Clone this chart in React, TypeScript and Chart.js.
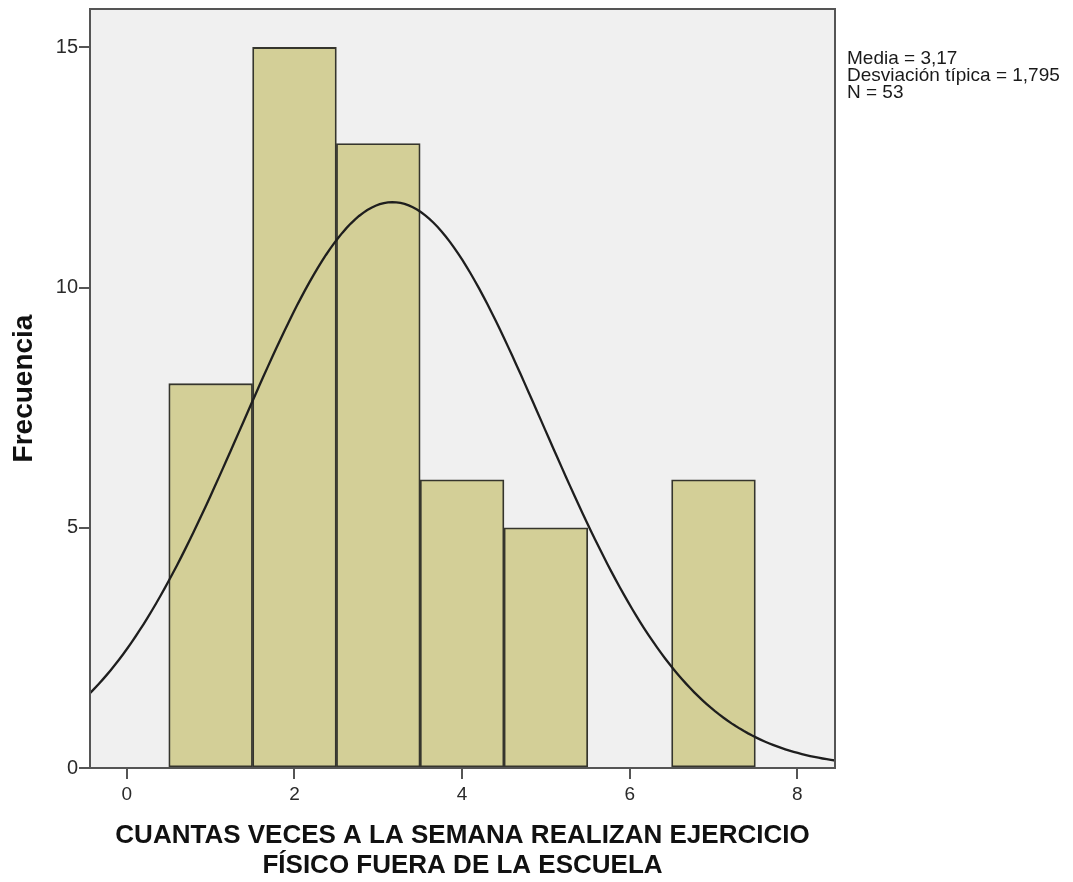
import React, { useEffect, useRef } from "react";
import { Chart, registerables } from "chart.js";

Chart.register(...registerables);

// Histogram bins (times per week) and their frequencies
const binCenters = [1, 2, 3, 4, 5, 6, 7];
const frequencies = [8, 15, 13, 6, 5, 0, 6];

// Summary statistics shown beside the plot
const MEAN = 3.17;
const STD_DEV = 1.795;
const N = 53;
const BIN_WIDTH = 1;

const statLines = [
  "Media = 3,17",
  "Desviación típica = 1,795",
  "N = 53",
];

const xTitle = [
  "CUANTAS VECES A LA SEMANA REALIZAN EJERCICIO",
  "FÍSICO FUERA DE LA ESCUELA",
];
const yTitle = "Frecuencia";

const X_MIN = -0.44;
const X_MAX = 8.45;
const Y_MAX = 15.8;

// Fitted normal curve scaled to frequency counts
function normalCurve(): { x: number; y: number }[] {
  const pts: { x: number; y: number }[] = [];
  const steps = 180;
  const scale = (N * BIN_WIDTH) / (STD_DEV * Math.sqrt(2 * Math.PI));
  for (let i = 0; i <= steps; i++) {
    const x = X_MIN + ((X_MAX - X_MIN) * i) / steps;
    const z = (x - MEAN) / STD_DEV;
    pts.push({ x, y: scale * Math.exp(-0.5 * z * z) });
  }
  return pts;
}

const FONT = "'Liberation Sans', Arial, sans-serif";

const framePlugin = {
  id: "frameAndStats",
  beforeDraw(chart: any) {
    const { ctx, chartArea } = chart;
    ctx.save();
    ctx.fillStyle = "#f0f0f0";
    ctx.fillRect(
      chartArea.left,
      chartArea.top,
      chartArea.right - chartArea.left,
      chartArea.bottom - chartArea.top
    );
    ctx.restore();
  },
  afterDraw(chart: any) {
    const { ctx, chartArea } = chart;
    ctx.save();
    ctx.strokeStyle = "#555555";
    ctx.lineWidth = 2;
    ctx.strokeRect(
      chartArea.left,
      chartArea.top,
      chartArea.right - chartArea.left,
      chartArea.bottom - chartArea.top
    );
    ctx.fillStyle = "#1a1a1a";
    ctx.font = `19px ${FONT}`;
    ctx.textBaseline = "middle";
    ctx.textAlign = "left";
    statLines.forEach((line, i) => {
      ctx.fillText(line, chartArea.right + 12, 59 + i * 17);
    });
    ctx.restore();
  },
};

export default function App() {
  const canvasRef = useRef<HTMLCanvasElement | null>(null);

  useEffect(() => {
    document.body.style.margin = "0";
    const canvas = canvasRef.current;
    if (!canvas) return;

    const chart = new Chart(canvas, {
      type: "bar",
      data: {
        datasets: [
          {
            type: "line",
            data: normalCurve(),
            borderColor: "#1e1e1e",
            borderWidth: 2.3,
            pointRadius: 0,
            fill: false,
            tension: 0,
            order: 0,
          } as any,
          {
            type: "bar",
            data: binCenters.map((x, i) => ({ x, y: frequencies[i] })),
            backgroundColor: "#d3cf97",
            borderColor: "#35352d",
            borderWidth: 1.8,
            borderSkipped: false,
            barPercentage: 1,
            categoryPercentage: 1,
            order: 1,
          } as any,
        ],
      },
      options: {
        animation: false,
        responsive: false,
        maintainAspectRatio: false,
        layout: { padding: { left: 0, top: 9, right: 238, bottom: 0 } },
        plugins: {
          legend: { display: false },
          tooltip: { enabled: false },
        },
        scales: {
          x: {
            type: "linear",
            min: X_MIN,
            max: X_MAX,
            offset: false,
            grid: {
              display: true,
              drawOnChartArea: false,
              drawTicks: true,
              tickLength: 11,
              color: "#555555",
              lineWidth: 2,
              offset: false,
            },
            border: { display: false },
            ticks: {
              stepSize: 2,
              includeBounds: false,
              padding: 4,
              color: "#2a2a2a",
              font: { family: FONT, size: 19 },
            },
            title: {
              display: true,
              text: xTitle,
              color: "#111111",
              font: { family: FONT, size: 26, weight: "bold", lineHeight: "30px" } as any,
              padding: { top: 0, bottom: 1 },
            },
            afterFit(scale: any) {
              scale.height = 114;
              scale.paddingLeft = 0;
              scale.paddingRight = 0;
            },
          },
          y: {
            min: 0,
            max: Y_MAX,
            grid: {
              display: true,
              drawOnChartArea: false,
              drawTicks: true,
              tickLength: 11,
              color: "#555555",
              lineWidth: 2,
            },
            border: { display: false },
            ticks: {
              stepSize: 5,
              includeBounds: false,
              padding: 1,
              color: "#2a2a2a",
              font: { family: FONT, size: 20 },
            },
            title: {
              display: true,
              text: yTitle,
              color: "#111111",
              font: { family: FONT, size: 28, weight: "bold", lineHeight: 1.2 },
              padding: { top: 7, bottom: 0 },
            },
            afterFit(scale: any) {
              scale.width = 90;
              scale.paddingTop = 0;
              scale.paddingBottom = 0;
            },
          },
        },
      },
      plugins: [framePlugin],
    });

    return () => chart.destroy();
  }, []);

  return (
    <div style={{ position: "absolute", left: 0, top: 0, width: 1073, height: 882, background: "#ffffff" }}>
      <canvas ref={canvasRef} width={1073} height={882} style={{ display: "block" }} />
    </div>
  );
}
